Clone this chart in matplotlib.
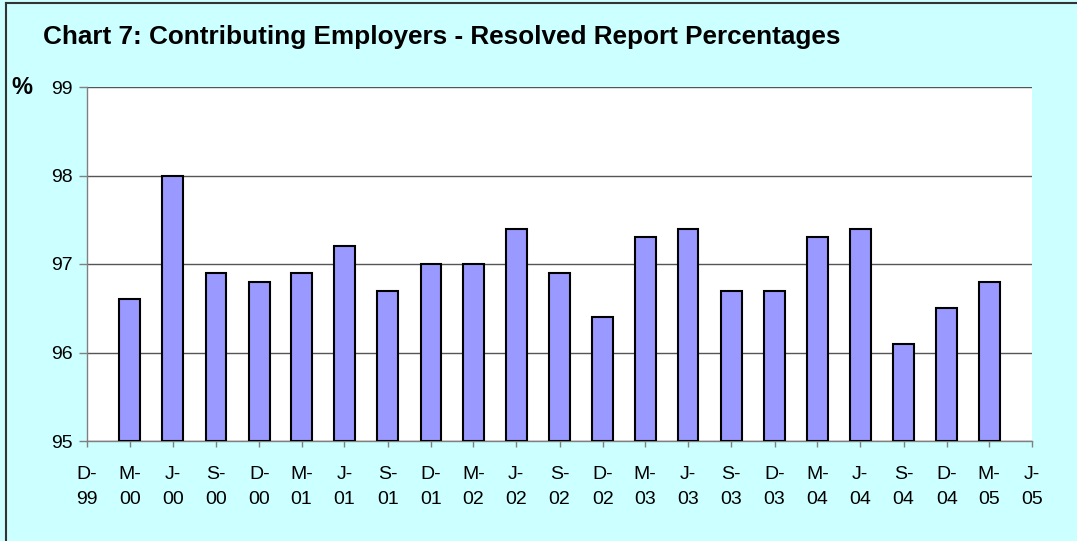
import matplotlib
matplotlib.use("Agg")
import matplotlib.pyplot as plt
import matplotlib.dates as mdates
from matplotlib.lines import Line2D
import datetime as dt

plt.rcParams['font.family'] = ['Liberation Sans', 'DejaVu Sans']

title = "Chart 7: Contributing Employers - Resolved Report Percentages"
tick_labels = ["D-\n99", "M-\n00", "J-\n00", "S-\n00", "D-\n00", "M-\n01", "J-\n01", "S-\n01",
               "D-\n01", "M-\n02", "J-\n02", "S-\n02", "D-\n02", "M-\n03", "J-\n03", "S-\n03",
               "D-\n03", "M-\n04", "J-\n04", "S-\n04", "D-\n04", "M-\n05", "J-\n05"]
tick_dates = ["1999-12-31", "2000-03-31", "2000-06-30", "2000-09-30", "2000-12-31",
              "2001-03-31", "2001-06-30", "2001-09-30", "2001-12-31", "2002-03-31",
              "2002-06-30", "2002-09-30", "2002-12-31", "2003-03-31", "2003-06-30",
              "2003-09-30", "2003-12-31", "2004-03-31", "2004-06-30", "2004-09-30",
              "2004-12-31", "2005-03-31", "2005-06-30"]
bar_dates = tick_dates[1:22]
values = [96.6, 98.0, 96.9, 96.8, 96.9, 97.2, 96.7, 97.0, 97.0, 97.4, 96.9,
          96.4, 97.3, 97.4, 96.7, 96.7, 97.3, 97.4, 96.1, 96.5, 96.8]

W, H = 1077, 541
fig = plt.figure(figsize=(W / 100, H / 100), dpi=100)
fig.patch.set_facecolor("#CCFFFF")

# outer border (left and top visible)
fig.add_artist(Line2D([6 / W, 6 / W], [0, 1 - 3 / H], transform=fig.transFigure,
                      color="#333333", lw=1.5))
fig.add_artist(Line2D([6 / W, 1], [1 - 3 / H, 1 - 3 / H], transform=fig.transFigure,
                      color="#333333", lw=1.5))

ax = fig.add_axes([87 / W, 1 - 441 / H, (1032 - 87) / W, (441 - 87) / H])
ax.set_facecolor("white")

tdates = [mdates.date2num(dt.date.fromisoformat(d)) for d in tick_dates]
bdates = [mdates.date2num(dt.date.fromisoformat(d)) for d in bar_dates]

ax.bar(bdates, [v - 95 for v in values], bottom=95, width=44,
       color="#9999FF", edgecolor="black", linewidth=1.5, zorder=3)

ax.set_xlim(tdates[0], tdates[-1])
ax.set_ylim(95, 99)
ax.set_yticks([95, 96, 97, 98, 99])
ax.set_xticks(tdates)
ax.set_xticklabels(tick_labels, linespacing=1.6)
ax.tick_params(axis='x', length=4, width=1, color="#808080", pad=14, labelsize=14)
ax.tick_params(axis='y', length=6, width=1, color="#808080", pad=4, labelsize=14)

ax.grid(axis='y', color="#555555", linewidth=1, zorder=1)
for s in ["top", "right"]:
    ax.spines[s].set_visible(False)
for s in ["left", "bottom"]:
    ax.spines[s].set_color("#808080")
    ax.spines[s].set_linewidth(1)

fig.text(43 / W, 1 - 37 / H, title, fontsize=18.8, fontweight='bold', va='center', ha='left')
fig.text(11 / W, 1 - 87 / H, "%", fontsize=17, fontweight='bold', va='center', ha='left')

fig.savefig("out.png", dpi=100, facecolor=fig.get_facecolor())
